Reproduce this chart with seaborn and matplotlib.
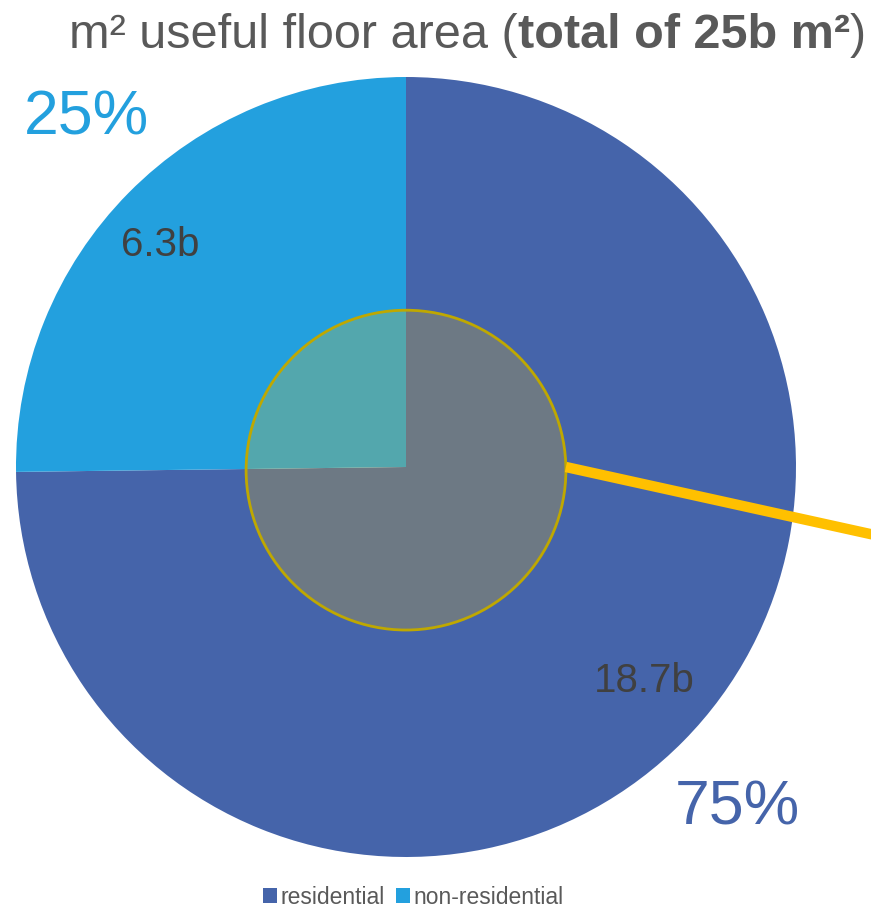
import matplotlib
matplotlib.use("Agg")
import matplotlib.pyplot as plt
import seaborn as sns
from matplotlib.patches import Circle, Patch

categories = ["residential", "non-residential"]
area_bn = [18.7, 6.3]
colors = ["#4564AA", "#23A0DE"]
title_plain = "m² useful floor area ("
title_bold = "total of 25b m²"

sns.set_theme(style="white")
plt.rcParams["font.family"] = ["Liberation Sans", "DejaVu Sans"]

W, H = 871, 909
fig = plt.figure(figsize=(W / 100, H / 100), dpi=100)
# pie box in pixels: x 15..797, y 77..857 from top
ax = fig.add_axes([15 / W, (H - 857) / H, 782 / W, 780 / H])
ax.pie(area_bn, colors=colors, startangle=90, counterclock=False, radius=1,
       wedgeprops={"linewidth": 0})
ax.set_xlim(-1, 1)
ax.set_ylim(-1, 1)
ax.set_aspect("equal")
ax.axis("off")

# highlighted inner circle and pointer line
r_in = 0.41
ax.add_patch(Circle((0, -0.008), r_in, facecolor="#FFC400", alpha=0.22, edgecolor="none", zorder=3))
ax.add_patch(Circle((0, -0.008), r_in, facecolor="none", edgecolor="#BFA800", linewidth=2, zorder=4))
ax.plot([r_in, 1.30], [0.0, -0.196], color="#FFC000", linewidth=7.5,
        solid_capstyle="butt", clip_on=False, zorder=5)

total = sum(area_bn)
pct = [f"{v / total:.0%}" for v in area_bn]
ax.text(0.61, -0.55, f"{area_bn[0]}b", ha="center", va="center", fontsize=29, color="#404040", zorder=6)
ax.text(-0.63, 0.57, f"{area_bn[1]}b", ha="center", va="center", fontsize=29, color="#404040", zorder=6)
ax.text(0.85, -0.875, pct[0], ha="center", va="center", fontsize=45, color=colors[0], clip_on=False)
ax.text(-0.82, 0.895, pct[1], ha="center", va="center", fontsize=45, color=colors[1], clip_on=False)

# title: plain part + bold part + closing paren, right-aligned
renderer = fig.canvas.get_renderer()
base_y = 1 - 48 / H
t3 = fig.text(0.994, base_y, ")", ha="right", va="baseline", fontsize=35, color="#595959")
x3 = t3.get_window_extent(renderer).x0 / W
t2 = fig.text(x3, base_y, title_bold, ha="right", va="baseline", fontsize=35,
              fontweight="bold", color="#595959")
x2 = t2.get_window_extent(renderer).x0 / W
fig.text(x2, base_y, title_plain, ha="right", va="baseline", fontsize=35, color="#595959")

handles = [Patch(facecolor=c, edgecolor="none") for c in colors]
fig.legend(handles, categories, loc="center", bbox_to_anchor=(413 / W, 12 / H), ncol=2,
           frameon=False, fontsize=16.5, handlelength=0.6, handleheight=0.6,
           handletextpad=0.15, columnspacing=0.5, labelcolor="#595959")

fig.savefig("out.png", dpi=100)
